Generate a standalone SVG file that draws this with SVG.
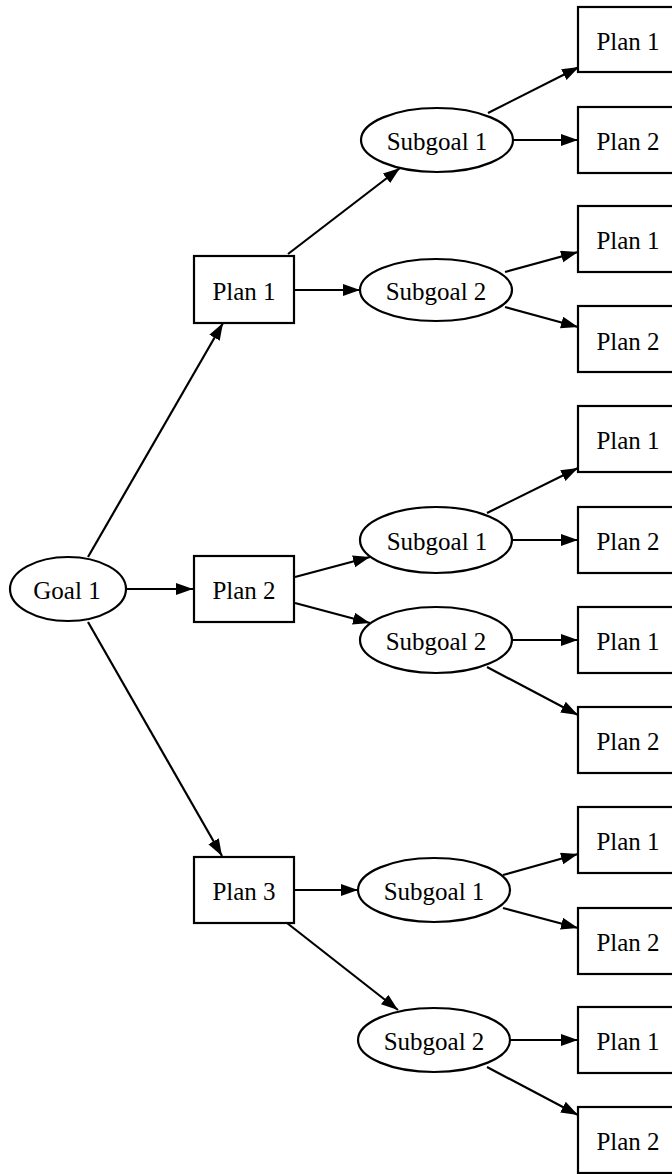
<svg xmlns="http://www.w3.org/2000/svg" width="672" height="1174" viewBox="0 0 672 1174">
  <style>
    .box { fill: #fff; stroke: #000; stroke-width: 2.2; }
    .oval { fill: #fff; stroke: #000; stroke-width: 2.2; }
    .lbl { font-family: "Liberation Serif", "Times New Roman", serif; font-size: 25px; text-anchor: middle; fill: #000; }
    .edge { stroke: #000; stroke-width: 2.2; fill: none; marker-end: url(#arrow); }
  </style>
  <defs>
    <marker id="arrow" markerUnits="userSpaceOnUse" markerWidth="18" markerHeight="13" refX="17" refY="6" orient="auto">
      <path d="M0,0 L17,6 L0,12 z" fill="#000"/>
    </marker>
  </defs>
  <rect width="672" height="1174" fill="#fff"/>

  <!-- connectors -->
  <g id="edges">
    <!-- goal to plans -->
    <line class="edge" x1="88" y1="557" x2="223" y2="323"/>
    <line class="edge" x1="127" y1="589" x2="193" y2="589"/>
    <line class="edge" x1="88" y1="622" x2="222" y2="856"/>
    <!-- plan 1 branch -->
    <line class="edge" x1="288" y1="254" x2="400" y2="168"/>
    <line class="edge" x1="295" y1="290" x2="360" y2="290"/>
    <line class="edge" x1="488" y1="113" x2="579" y2="67"/>
    <line class="edge" x1="513" y1="140" x2="578" y2="140"/>
    <line class="edge" x1="505" y1="272" x2="578" y2="252"/>
    <line class="edge" x1="505" y1="307" x2="578" y2="327"/>
    <!-- plan 2 branch -->
    <line class="edge" x1="295" y1="577" x2="370" y2="557"/>
    <line class="edge" x1="295" y1="603" x2="370" y2="623"/>
    <line class="edge" x1="487" y1="513" x2="578" y2="468"/>
    <line class="edge" x1="512" y1="540" x2="578" y2="540"/>
    <line class="edge" x1="512" y1="640" x2="578" y2="640"/>
    <line class="edge" x1="487" y1="667" x2="578" y2="715"/>
    <!-- plan 3 branch -->
    <line class="edge" x1="294" y1="890" x2="358" y2="890"/>
    <line class="edge" x1="287" y1="923" x2="398" y2="1010"/>
    <line class="edge" x1="503" y1="875" x2="578" y2="854"/>
    <line class="edge" x1="503" y1="908" x2="578" y2="928"/>
    <line class="edge" x1="511" y1="1040" x2="578" y2="1040"/>
    <line class="edge" x1="487" y1="1067" x2="578" y2="1115"/>
  </g>

  <!-- root goal -->
  <g id="goal1">
    <ellipse class="oval" cx="68" cy="589" rx="58" ry="32"/>
    <text class="lbl" x="67" y="599">Goal 1</text>
  </g>

  <!-- first-level plans -->
  <g id="plan1">
    <rect class="box" x="194" y="256" width="100" height="67"/>
    <text class="lbl" x="244" y="300">Plan 1</text>
  </g>
  <g id="plan2">
    <rect class="box" x="194" y="556" width="100" height="66"/>
    <text class="lbl" x="244" y="599">Plan 2</text>
  </g>
  <g id="plan3">
    <rect class="box" x="194" y="857" width="100" height="66"/>
    <text class="lbl" x="244" y="900">Plan 3</text>
  </g>

  <!-- subgoals -->
  <g id="p1-sub1">
    <ellipse class="oval" cx="437" cy="140" rx="76" ry="32"/>
    <text class="lbl" x="437" y="150">Subgoal 1</text>
  </g>
  <g id="p1-sub2">
    <ellipse class="oval" cx="436" cy="290" rx="76" ry="31"/>
    <text class="lbl" x="436" y="300">Subgoal 2</text>
  </g>
  <g id="p2-sub1">
    <ellipse class="oval" cx="436" cy="540" rx="76" ry="33"/>
    <text class="lbl" x="437" y="550">Subgoal 1</text>
  </g>
  <g id="p2-sub2">
    <ellipse class="oval" cx="436" cy="640" rx="76" ry="33"/>
    <text class="lbl" x="436" y="650">Subgoal 2</text>
  </g>
  <g id="p3-sub1">
    <ellipse class="oval" cx="434" cy="890" rx="76" ry="32"/>
    <text class="lbl" x="434" y="900">Subgoal 1</text>
  </g>
  <g id="p3-sub2">
    <ellipse class="oval" cx="434" cy="1040" rx="76" ry="32"/>
    <text class="lbl" x="434" y="1050">Subgoal 2</text>
  </g>

  <!-- leaf plans -->
  <g id="leaf-1"><rect class="box" x="578" y="7" width="100" height="65"/><text class="lbl" x="628" y="50">Plan 1</text></g>
  <g id="leaf-2"><rect class="box" x="578" y="107" width="100" height="66"/><text class="lbl" x="628" y="150">Plan 2</text></g>
  <g id="leaf-3"><rect class="box" x="578" y="206" width="100" height="66"/><text class="lbl" x="628" y="249">Plan 1</text></g>
  <g id="leaf-4"><rect class="box" x="578" y="306" width="100" height="66"/><text class="lbl" x="628" y="350">Plan 2</text></g>
  <g id="leaf-5"><rect class="box" x="578" y="406" width="100" height="66"/><text class="lbl" x="628" y="449">Plan 1</text></g>
  <g id="leaf-6"><rect class="box" x="578" y="507" width="100" height="66"/><text class="lbl" x="628" y="550">Plan 2</text></g>
  <g id="leaf-7"><rect class="box" x="578" y="607" width="100" height="66"/><text class="lbl" x="628" y="650">Plan 1</text></g>
  <g id="leaf-8"><rect class="box" x="578" y="707" width="100" height="66"/><text class="lbl" x="628" y="750">Plan 2</text></g>
  <g id="leaf-9"><rect class="box" x="578" y="807" width="100" height="66"/><text class="lbl" x="628" y="850">Plan 1</text></g>
  <g id="leaf-10"><rect class="box" x="578" y="908" width="100" height="66"/><text class="lbl" x="628" y="951">Plan 2</text></g>
  <g id="leaf-11"><rect class="box" x="578" y="1007" width="100" height="66"/><text class="lbl" x="628" y="1050">Plan 1</text></g>
  <g id="leaf-12"><rect class="box" x="578" y="1107" width="100" height="66"/><text class="lbl" x="628" y="1150">Plan 2</text></g>
</svg>
